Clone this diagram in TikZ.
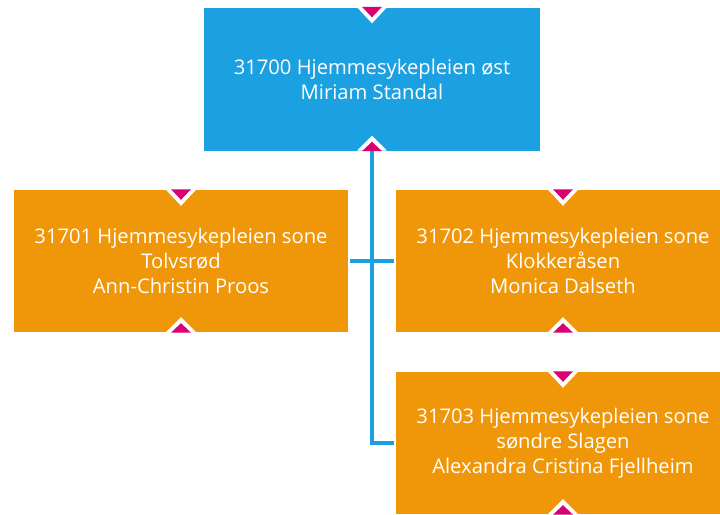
\documentclass[tikz,border=0pt]{standalone}
\usepackage{fontspec}
\setmainfont{Open Sans}
\definecolor{boxblue}{HTML}{1BA1E2}
\definecolor{boxorange}{HTML}{F09609}
\definecolor{markmag}{HTML}{D80073}
\begin{document}
\begin{tikzpicture}[x=1pt,y=-1pt,
  orgbox/.style={rectangle, inner sep=0pt, minimum width=334pt, minimum height=142pt,
    text=white, align=center, font=\fontsize{20.2}{25}\selectfont},
  bluebox/.style={orgbox, fill=boxblue, minimum width=336pt, minimum height=143pt},
  orangebox/.style={orgbox, fill=boxorange},
  link/.style={draw=boxblue, line width=4pt},
  notchtop/.pic={\fill[white] (-15,0) -- (15,0) -- (0,16) -- cycle;
                 \fill[markmag] (-10,-0.5) -- (10,-0.5) -- (0,10) -- cycle;},
  notchbot/.pic={\fill[white] (-15,0) -- (15,0) -- (0,-15) -- cycle;
                 \fill[markmag] (-10,0.5) -- (10,0.5) -- (0,-9) -- cycle;}
]
\clip (0,0) rectangle (720,514);
\fill[white] (0,0) rectangle (720,514);

\node[bluebox] (top) at (372,79) {31700 Hjemmesykepleien øst\\Miriam Standal};
\node[orangebox] (left) at (181,261) {31701 Hjemmesykepleien sone\\Tolvsrød\\Ann-Christin Proos};
\node[orangebox] (right) at (563,261) {31702 Hjemmesykepleien sone\\Klokkeråsen\\Monica Dalseth};
\node[orangebox] (bot) at (563,443) {31703 Hjemmesykepleien sone\\søndre Slagen\\Alexandra Cristina Fjellheim};

\draw[link, shorten <=2pt, shorten >=2pt] (left.east) -- (right.west);
\draw[link, shorten >=2pt] (top.south) |- (bot.west);

\foreach \n in {top,left,right,bot}{
  \pic at (\n.north) {notchtop};
  \pic at (\n.south) {notchbot};
}
\end{tikzpicture}
\end{document}
